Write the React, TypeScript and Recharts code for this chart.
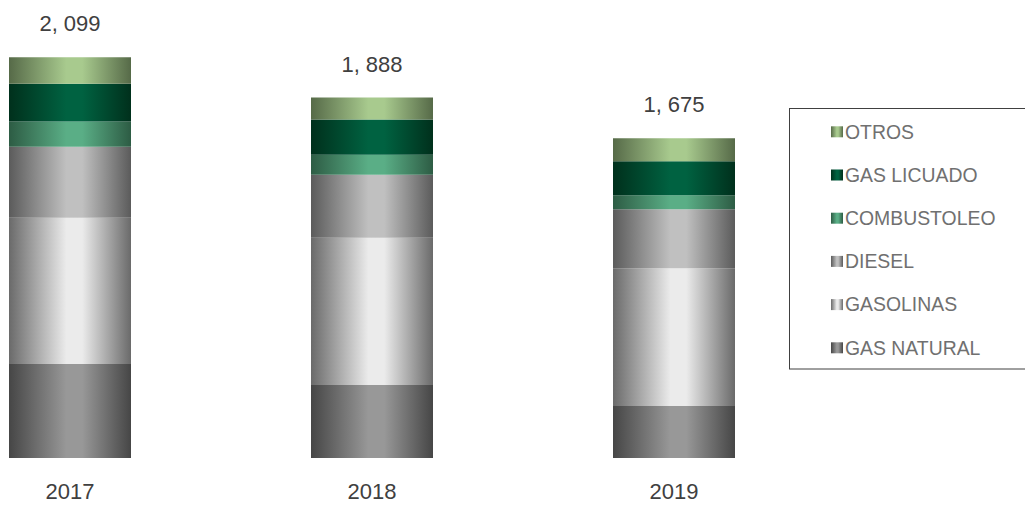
import React from 'react';
import { BarChart, Bar, XAxis, YAxis, LabelList, Legend } from 'recharts';

const years = ['2017', '2018', '2019'];
const gasNatural = [493, 383, 273];
const gasolinas = [766, 771, 721];
const diesel = [372, 330, 309];
const combustoleo = [131, 105, 73];
const gasLicuado = [199, 184, 178];
const otros = [138, 115, 121];

const seriesKeys = ['gasNatural', 'gasolinas', 'diesel', 'combustoleo', 'gasLicuado', 'otros'];
const seriesNames = ['GAS NATURAL', 'GASOLINAS', 'DIESEL', 'COMBUSTOLEO', 'GAS LICUADO', 'OTROS'];
const edgeColors = ['#464646', '#6a6a6a', '#5b5b5b', '#2d5c44', '#00301c', '#566a48'];
const centerColors = ['#989898', '#ebebeb', '#c0c0c0', '#5aae86', '#006241', '#a8ca8e'];

const seriesValues = [gasNatural, gasolinas, diesel, combustoleo, gasLicuado, otros];

const data = years.map((year, i) => {
  const row: Record<string, any> = { year };
  seriesKeys.forEach((k, s) => {
    row[k] = seriesValues[s][i];
  });
  row.total = seriesValues.reduce((acc, arr) => acc + arr[i], 0);
  return row;
});

const FONT = '"Liberation Sans", Arial, sans-serif';

const formatTotal = (v: number) => {
  const th = Math.floor(v / 1000);
  const rest = String(v % 1000).padStart(3, '0');
  return th > 0 ? `${th}, ${rest}` : `${rest}`;
};

const gradStops = (edge: string, center: string) => [
  <stop key="a" offset="0%" stopColor={edge} />,
  <stop key="b" offset="47%" stopColor={center} />,
  <stop key="c" offset="60%" stopColor={center} />,
  <stop key="d" offset="100%" stopColor={edge} />,
];

const TotalLabel = (props: any) => {
  const { x, y, width, value } = props;
  return (
    <text
      x={Number(x) + Number(width) / 2}
      y={Number(y) - 26}
      textAnchor="middle"
      fontSize={22}
      fill="#404040"
      fontFamily={FONT}
    >
      {formatTotal(Number(value))}
    </text>
  );
};

const LegendBox = () => {
  const order = [...seriesKeys.keys()].reverse();
  return (
    <svg width={240} height={264} style={{ display: 'block', overflow: 'visible' }}>
      <defs>
        {seriesKeys.map((k, i) => (
          <linearGradient key={k} id={`lg-${k}`} x1="0" y1="0" x2="1" y2="0">
            {gradStops(edgeColors[i], centerColors[i])}
          </linearGradient>
        ))}
      </defs>
      <rect x={0.5} y={0.5} width={250} height={260.5} fill="none" stroke="#404040" strokeWidth={1} />
      {order.map((s, row) => {
        const cy = 23.8 + row * 43.2;
        return (
          <g key={seriesKeys[s]}>
            <rect x={42} y={cy - 5.5} width={12} height={11} fill={`url(#lg-${seriesKeys[s]})`} />
            <text x={56} y={cy + 6.8} fontSize={19.4} fill="#707070" fontFamily={FONT}>
              {seriesNames[s]}
            </text>
          </g>
        );
      })}
    </svg>
  );
};

export default function App() {
  return (
    <div style={{ position: 'absolute', left: 0, top: 0, width: 1025, height: 507, fontFamily: FONT, background: '#fff' }}>
      <BarChart
        width={1025}
        height={507}
        data={data}
        margin={{ top: 38, right: 200, bottom: 0, left: -81 }}
      >
        <defs>
          {seriesKeys.map((k, i) => (
            <linearGradient key={k} id={`g-${k}`} x1="0" y1="0" x2="1" y2="0">
              {gradStops(edgeColors[i], centerColors[i])}
            </linearGradient>
          ))}
        </defs>
        <XAxis
          dataKey="year"
          axisLine={false}
          tickLine={false}
          tickSize={0}
          tickMargin={25}
          height={49}
          interval={0}
          tick={{ fontSize: 22, fill: '#404040', fontFamily: FONT }}
        />
        <YAxis hide domain={[0, 2200]} />
        <Legend
          layout="horizontal"
          verticalAlign="middle"
          align="center"
          wrapperStyle={{ left: 789, top: 108, width: 240, height: 264 }}
          content={() => <LegendBox />}
        />
        {seriesKeys.map((k, i) => (
          <Bar
            key={k}
            dataKey={k}
            name={seriesNames[i]}
            stackId="a"
            barSize={122}
            fill={`url(#g-${k})`}
            isAnimationActive={false}
          >
            {k === 'otros' ? <LabelList dataKey="total" content={TotalLabel} /> : null}
          </Bar>
        ))}
      </BarChart>
    </div>
  );
}
